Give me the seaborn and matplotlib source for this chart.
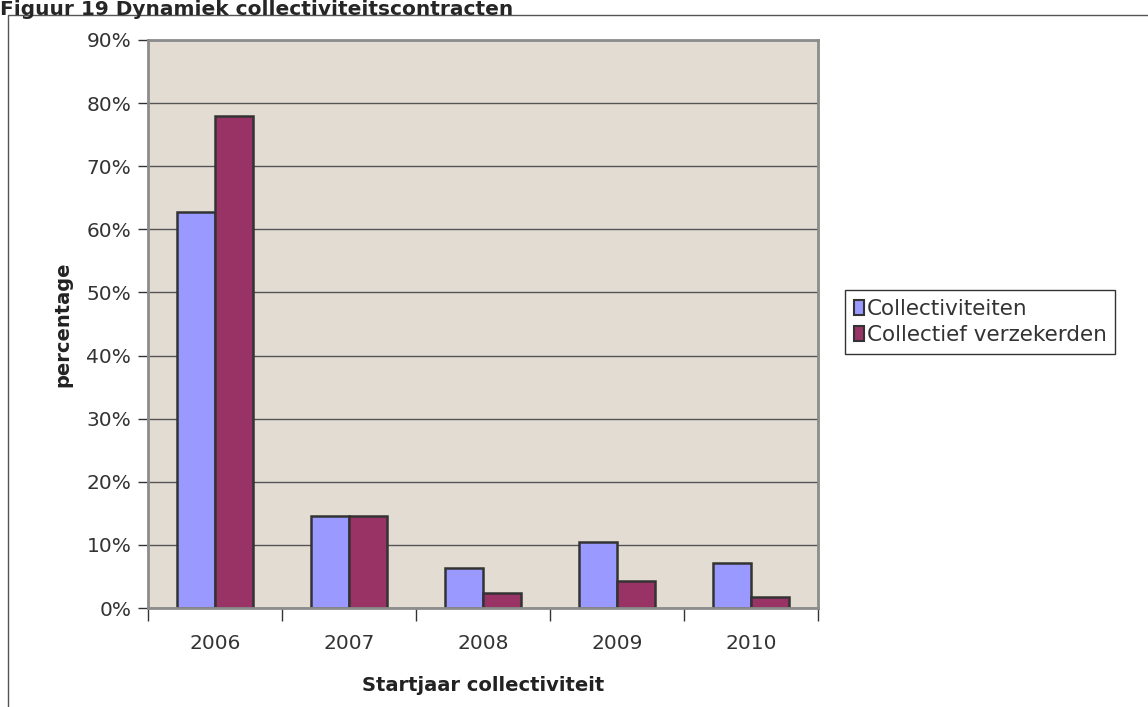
import numpy as np
import pandas as pd
import matplotlib.pyplot as plt
import matplotlib.patches as mpatches
from matplotlib.ticker import FuncFormatter
import seaborn as sns

years = ['2006', '2007', '2008', '2009', '2010']
collectiviteiten = [62.7, 14.6, 6.3, 10.4, 7.1]
verzekerden = [78.0, 14.6, 2.3, 4.2, 1.7]
series = ['Collectiviteiten', 'Collectief verzekerden']

df = pd.DataFrame({
    'jaar': years * 2,
    'pct': collectiviteiten + verzekerden,
    'reeks': [series[0]] * 5 + [series[1]] * 5,
})

sns.set_style('white')
plt.rcParams['font.family'] = ['DejaVu Sans']

fig = plt.figure(figsize=(11.48, 7.07), dpi=100)
ax = fig.add_axes([148 / 1148, 1 - 608 / 707, 670 / 1148, 568 / 707])

sns.barplot(data=df, x='jaar', y='pct', hue='reeks', ax=ax,
            palette=['#9999FF', '#993366'], width=0.57,
            edgecolor='#333333', linewidth=1.8, saturation=1)

ax.set_facecolor('#E2DCD3')
ax.set_ylim(0, 90)
ax.set_xlim(-0.5, 4.5)
ax.set_yticks(np.arange(0, 91, 10))
ax.yaxis.set_major_formatter(FuncFormatter(lambda v, p: f'{v:.0f}%'))
ax.yaxis.grid(True, color='#555555', linewidth=1.0)
ax.set_axisbelow(True)
for s in ax.spines.values():
    s.set_color('#8c8c8c')
    s.set_linewidth(2)

ax.tick_params(axis='y', length=7, width=1, color='#333333', labelsize=14.5,
               labelcolor='#333333', pad=5, left=True)
ax.set_xticks(range(5))
ax.set_xticklabels(years)
ax.set_xticks(np.arange(-0.5, 5, 1), minor=True)
ax.tick_params(axis='x', which='major', length=0, labelsize=14.5,
               labelcolor='#333333', pad=19)
ax.tick_params(axis='x', which='minor', length=9, width=1, color='#333333',
               bottom=True)

ax.set_xlabel('Startjaar collectiviteit', fontsize=14, fontweight='bold',
              color='#222222', labelpad=16)
ax.set_ylabel('percentage', fontsize=14, fontweight='bold', color='#222222',
              labelpad=10)

handles = [mpatches.Patch(facecolor=c, edgecolor='#333333', linewidth=1.5)
           for c in ['#9999FF', '#993366']]
leg = ax.legend(handles, series, loc='center left',
                bbox_to_anchor=(845 / 1148, 1 - 322 / 707),
                bbox_transform=fig.transFigure, fontsize=15.5, frameon=True,
                fancybox=False, edgecolor='black', handlelength=0.5,
                handleheight=0.7, handletextpad=0.1, borderpad=0.4,
                labelspacing=0.3, borderaxespad=0)
leg.get_frame().set_linewidth(1)
for t in leg.get_texts():
    t.set_color('#333333')

# outer frame
fig.add_artist(mpatches.Rectangle((8 / 1148, -0.01), 1.02, 1 - 15 / 707 + 0.01,
                                  transform=fig.transFigure, fill=False,
                                  edgecolor='#555555', linewidth=1))
fig.text(0.0, 1.0, 'Figuur 19 Dynamiek collectiviteitscontracten',
         fontsize=14.5, fontweight='bold', va='top', ha='left')

fig.savefig('out.png', dpi=100)
